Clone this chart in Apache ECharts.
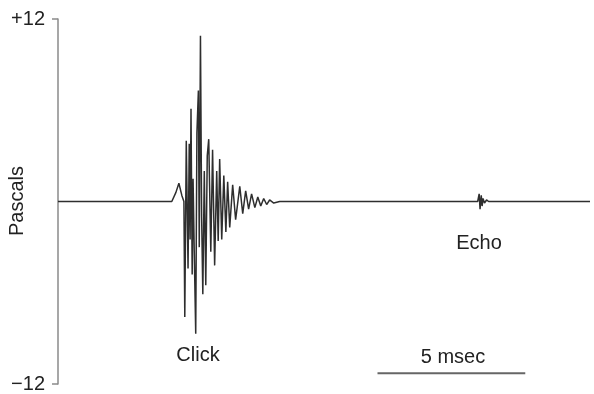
<!DOCTYPE html>
<html>
<head>
<meta charset="utf-8">
<script src="https://cdn.jsdelivr.net/npm/echarts@6/dist/echarts.min.js"></script>
<style>
html,body{margin:0;padding:0;background:#fff;}
#c{width:594px;height:394px;}
</style>
</head>
<body>
<div id="c"></div>
<script>
// time in msec, pressure in Pascals
var timeMs = [0, 3.85, 3.99, 4.09, 4.19, 4.26, 4.29, 4.34, 4.40, 4.44, 4.47, 4.50, 4.54, 4.57, 4.61, 4.66, 4.70, 4.75, 4.78, 4.82, 4.86, 4.90, 4.95, 5.00, 5.05, 5.10, 5.17, 5.23, 5.30, 5.37, 5.42, 5.47, 5.54, 5.61, 5.68, 5.74, 5.81, 5.91, 6.01, 6.15, 6.25, 6.35, 6.45, 6.55, 6.66, 6.76, 6.86, 6.96, 7.06, 7.16, 7.30, 7.50,
  14.20, 14.25, 14.28, 14.32, 14.35, 14.38, 14.43, 14.50, 14.57, 18];
var pascals = [0, 0, 0.6, 1.2, 0.4, 0, -7.6, 4.0, -4.4, 3.8, -2.5, 6.1, -4.8, 1.5, -3.3, -8.7, 4.5, 7.3, -3.0, 10.9, -1.0, -6.1, 2.0, -5.5, 3.0, 4.1, -3.3, 3.4, -4.2, 2.0, -2.6, 2.8, -2.5, 1.7, -2.0, 1.3, -1.7, 1.1, -1.2, 1.0, -0.8, 0.7, -0.5, 0.5, -0.4, 0.3, -0.3, 0.2, -0.2, 0.1, -0.1, 0,
  0, 0.5, -0.5, 0.4, -0.3, 0.2, -0.1, 0.1, 0, 0];
var yTicks = [-12, 12];
var yTickLabels = ['\u221212', '+12'];
var scaleBarTime = [10.81, 15.81];
var scaleBarLevel = -11.3;
var labels = { click: 'Click', echo: 'Echo', scale: '5 msec', yName: 'Pascals' };

var wave = timeMs.map(function (t, i) { return [t, pascals[i]]; });
var bar = scaleBarTime.map(function (t) { return [t, scaleBarLevel]; });

var chart = echarts.init(document.getElementById('c'), null, { renderer: 'canvas' });
var fam = '"Liberation Sans", Arial, sans-serif';
var font = '20px ' + fam;
chart.setOption({
  animation: false,
  backgroundColor: '#fff',
  grid: { left: 58, right: 4, top: 19, bottom: 10 },
  xAxis: { type: 'value', min: 0, max: 18, show: false },
  yAxis: {
    type: 'value', min: -12, max: 12,
    axisLine: { show: true, lineStyle: { color: '#8a8a8a', width: 1.5 } },
    axisTick: { show: true, customValues: yTicks, length: 6, inside: false, lineStyle: { color: '#8a8a8a', width: 1.5 } },
    axisLabel: { show: true, customValues: yTicks, margin: 13, fontSize: 20, color: '#222', fontFamily: fam,
      formatter: function (v) { return yTickLabels[yTicks.indexOf(v)]; } },
    splitLine: { show: false }
  },
  series: [
    { type: 'line', data: wave, showSymbol: false, lineStyle: { color: '#2e2e2e', width: 1.5 }, z: 3 },
    { type: 'line', data: bar, showSymbol: false, lineStyle: { color: '#666', width: 2 } }
  ],
  graphic: [
    { type: 'text', x: 17, y: 201, rotation: Math.PI / 2, style: { text: labels.yName, font: font, fill: '#222', textAlign: 'center', textVerticalAlign: 'middle' } },
    { type: 'text', x: 198, y: 355, style: { text: labels.click, font: font, fill: '#222', textAlign: 'center', textVerticalAlign: 'middle' } },
    { type: 'text', x: 479, y: 243, style: { text: labels.echo, font: font, fill: '#222', textAlign: 'center', textVerticalAlign: 'middle' } },
    { type: 'text', x: 453, y: 357, style: { text: labels.scale, font: font, fill: '#222', textAlign: 'center', textVerticalAlign: 'middle' } }
  ]
});
</script>
</body>
</html>
